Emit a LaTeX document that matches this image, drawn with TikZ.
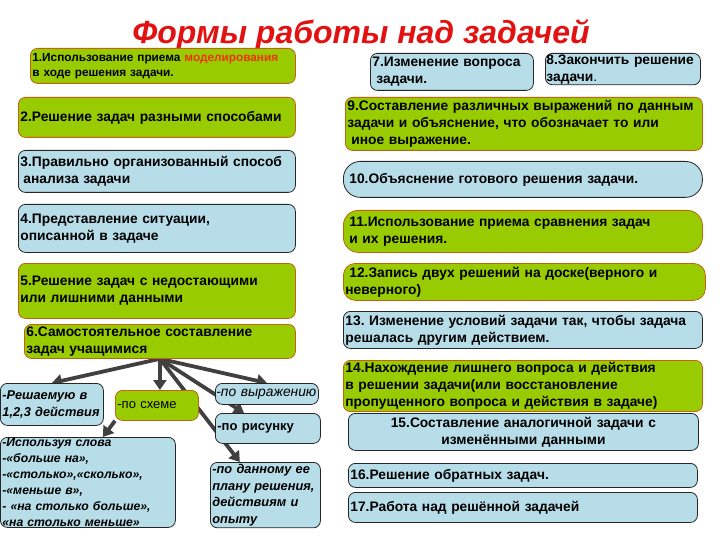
\documentclass[tikz,border=0pt]{standalone}
\usepackage{fontspec}
\setmainfont{Liberation Sans}
\usepackage{xcolor}
\usetikzlibrary{arrows.meta,calc,backgrounds}
\definecolor{leaf}{RGB}{153,204,0}
\definecolor{sky}{RGB}{183,221,232}
\definecolor{rust}{RGB}{196,98,16}
\definecolor{ink}{RGB}{64,64,64}
\definecolor{titlered}{RGB}{226,18,18}
\definecolor{hot}{RGB}{240,50,10}
\tikzset{
  blk/.style  = {rounded corners=7pt, align=left, anchor=north west,
                 inner sep=2pt, line width=0.8pt,
                 font=\bfseries\fontsize{13.8}{17}\selectfont},
  grn/.style  = {blk, draw=rust, fill=leaf},
  blu/.style  = {blk, draw=black!85, fill=sky},
  sub/.style  = {font=\bfseries\itshape\fontsize{12.8}{16.5}\selectfont},
  ar/.style   = {-{Triangle[length=10pt,width=13pt]}, line width=3.8pt, draw=ink},
  ttl/.style  = {font=\bfseries\itshape\fontsize{32}{38}\selectfont, text=titlered},
}
\begin{document}
\begin{tikzpicture}[x=1pt,y=-1pt]
\useasboundingbox (0,0) rectangle (720,540);

\node[ttl] (title) at (361,35) {Формы работы над задачей};

% left column
\node[grn, text width=261pt, minimum height=35pt, font=\bfseries\fontsize{11.8}{15}\selectfont] (f1) at (30,48)
     {1.Использование приема \textcolor{hot}{моделирования}\\в ходе решения задачи.};
\node[grn, text width=273pt, minimum height=40pt] (f2) at (18,97)
     {2.Решение задач разными способами};
\node[blu, text width=273pt, minimum height=42pt] (f3) at (18,150)
     {3.Правильно организованный способ\\\hspace*{3pt}анализа задачи};
\node[blu, text width=273pt, minimum height=48pt] (f4) at (18,204)
     {4.Представление ситуации,\\описанной в задаче};
\node[grn, text width=273pt, minimum height=55pt] (f5) at (18,263)
     {5.Решение задач с недостающими\\или лишними данными};
\node[grn, text width=267pt, minimum height=34pt] (f6) at (24,324)
     {6.Самостоятельное составление\\задач учащимися};

% ways of composing
\node[blu, sub, text width=99pt, minimum height=42pt] (v1) at (0,383)
     {-Решаемую в\\1,2,3 действия};
\node[grn, text width=79pt, minimum height=30pt, font=\fontsize{13}{17}\selectfont] (v2) at (115,390)
     {-по схеме};
\node[blu, text width=101pt, minimum height=21pt, inner sep=1pt, font=\itshape\fontsize{13.8}{16}\selectfont] (v3) at (215,383)
     {-по выражению};
\node[blu, text width=101pt, minimum height=30pt, font=\bfseries\fontsize{13}{17}\selectfont] (v4) at (215,413)
     {-по рисунку};
\node[blu, sub, text width=171pt, minimum height=90pt, inner ysep=0pt, font=\bfseries\itshape\fontsize{12.2}{16}\selectfont] (v5) at (0,437)
     {-Используя слова\\-«больше на»,\\-«столько»,«сколько»,\\-«меньше в»,\\- «на столько больше»,\\«на столько меньше»};
\node[blu, sub, text width=106pt, minimum height=65pt] (v6) at (210,462)
     {-по данному ее\\плану решения,\\действиям и\\опыту};

% right column
\node[blu, text width=159pt, minimum height=37pt] (f7) at (370,53)
     {7.Изменение вопроса\\\hspace*{4pt}задачи.};
\node[blu, text width=153pt, minimum height=31pt, inner sep=1pt] (f8) at (545,53)
     {8.Закончить решение\\задачи\textmd{.}};
\node[grn, text width=353pt, minimum height=53pt] (f9) at (345,97)
     {9.Составление различных выражений по данным\\задачи и объяснение, что обозначает то или\\\hspace*{4pt}иное выражение.};
\node[blu, text width=355pt, minimum height=36pt, rounded corners=17pt] (f10) at (343,161)
     {\hspace*{4pt}10.Объяснение готового решения задачи.};
\node[grn, text width=355pt, minimum height=42pt, rounded corners=15pt] (f11) at (343,210)
     {\hspace*{4pt}11.Использование приема сравнения задач\\\hspace*{4pt}и их решения.};
\node[grn, text width=358pt, minimum height=37pt, rounded corners=12pt] (f12) at (343,263)
     {\hspace*{4pt}12.Запись двух решений на доске(верного и\\неверного)};
\node[blu, text width=355pt, minimum height=37pt] (f13) at (343,311)
     {13.\ Изменение условий задачи так, чтобы задача\\решалась другим действием.};
\node[grn, text width=355pt, minimum height=48pt] (f14) at (343,360)
     {14.Нахождение лишнего вопроса и действия\\в решении задачи(или восстановление\\пропущенного вопроса и действия в задаче)};
\node[blu, text width=346pt, minimum height=37pt, align=center] (f15) at (348,413)
     {15.Составление аналогичной задачи с\\изменёнными данными};
\node[blu, text width=345pt, minimum height=24pt] (f16) at (348,463)
     {16.Решение обратных задач.};
\node[blu, text width=345pt, minimum height=30pt] (f17) at (348,492)
     {17.Работа над решённой задачей};

\begin{scope}[on background layer]
\draw[ar] (f6.south) -- (v1.north);
\draw[ar] (f6.south) -- (f6.south |- v2.north);
\draw[ar] (f6.south) -- (v3.north);
\draw[ar] (f6.south) -- (v4);
\draw[ar] (f6.south) -- (v6);
\draw[ar] (v2.south west) -- ($(v5.north)+(15,0)$);
\end{scope}
\end{tikzpicture}
\end{document}
